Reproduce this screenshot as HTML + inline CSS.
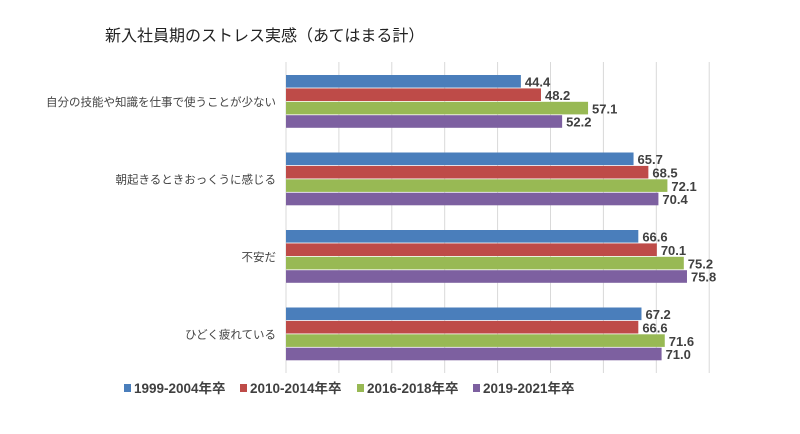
<!DOCTYPE html>
<html><head><meta charset="utf-8"><style>
body{margin:0;background:#fff;width:800px;height:429px;overflow:hidden}
text{font-family:"Liberation Sans","Noto Sans CJK JP",sans-serif}
</style></head><body>
<svg id="chart" width="800" height="429" xmlns="http://www.w3.org/2000/svg">
<text x="105" y="41" font-size="16" fill="#222">新入社員期のストレス実感（あてはまる計）</text>
<g id="grid"></g><g id="bars"></g><g id="labels"></g><g id="legend"></g>
</svg>
<script>
const categories=["自分の技能や知識を仕事で使うことが少ない","朝起きるときおっくうに感じる","不安だ","ひどく疲れている"];
const series=["1999-2004年卒","2010-2014年卒","2016-2018年卒","2019-2021年卒"];
const s1=[44.4,65.7,66.6,67.2];
const s2=[48.2,68.5,70.1,66.6];
const s3=[57.1,72.1,75.2,71.6];
const s4=[52.2,70.4,75.8,71.0];
const colors=["#4a7ebb","#be4b48","#98b954","#7d60a0"];
const all=[s1,s2,s3,s4];
const x0=286,scale=5.29;
const xs=v=>x0+v*scale;
const groupTop=i=>75+i*77.5;
const NS="http://www.w3.org/2000/svg";
const g=document.getElementById('grid'),b=document.getElementById('bars'),l=document.getElementById('labels'),lg=document.getElementById('legend');
for(let t=0;t<=80;t+=10){const ln=document.createElementNS(NS,'line');


ln.setAttribute('x1',xs(t));ln.setAttribute('x2',xs(t));ln.setAttribute('y1',62);ln.setAttribute('y2',373);ln.setAttribute('stroke','#d9d9d9');g.appendChild(ln);}
categories.forEach((c,i)=>{
 const t=document.createElementNS(NS,'text');
 
 
 t.setAttribute('x',276);t.setAttribute('y',groupTop(i)+31);t.setAttribute('text-anchor','end');t.setAttribute('font-size','11.5');t.setAttribute('fill','#444');t.textContent=c;l.appendChild(t);
 all.forEach((s,j)=>{
  const y=groupTop(i)+j*13.4;
  const r=document.createElementNS(NS,'rect');
  
  
  r.setAttribute('x',x0);r.setAttribute('y',y);r.setAttribute('width',xs(s[i])-x0);r.setAttribute('height',12.6);r.setAttribute('fill',colors[j]);b.appendChild(r);
  const v=document.createElementNS(NS,'text');
  
  
  v.setAttribute('x',xs(s[i])+4);v.setAttribute('y',y+11.5);v.setAttribute('font-size','13');v.setAttribute('font-weight','bold');v.setAttribute('fill','#404040');v.textContent=s[i].toFixed(1);l.appendChild(v);
 });
});
const lx=[124,240,357,473];
series.forEach((s,j)=>{
 const r=document.createElementNS(NS,'rect');
 
 
 r.setAttribute('x',lx[j]);r.setAttribute('y',384);r.setAttribute('width',7);r.setAttribute('height',8);r.setAttribute('fill',colors[j]);lg.appendChild(r);
 const t=document.createElementNS(NS,'text');
 
 
 t.setAttribute('x',lx[j]+10);t.setAttribute('y',393);t.setAttribute('font-size','13.5');t.setAttribute('font-weight','bold');t.setAttribute('fill','#404040');t.textContent=s;lg.appendChild(t);
});
</script>
</body></html>
